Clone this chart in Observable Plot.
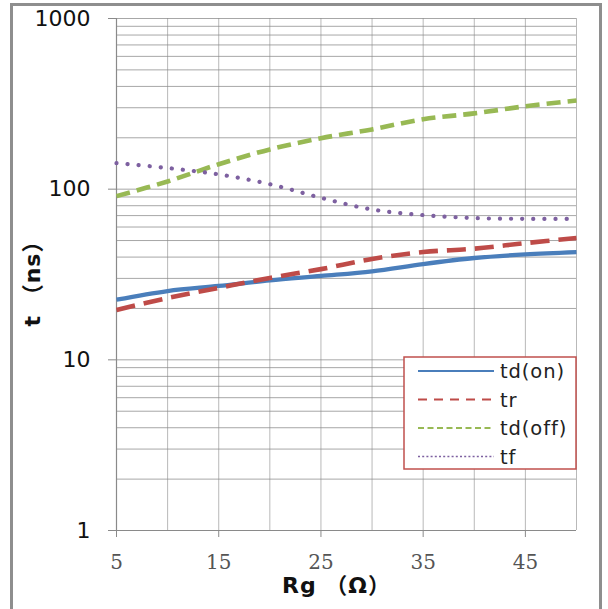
<!DOCTYPE html>
<html>
<head>
<meta charset="utf-8">
<script src="https://cdn.jsdelivr.net/npm/d3@7"></script>
<script src="https://cdn.jsdelivr.net/npm/@observablehq/plot@0.6"></script>
<style>
  html, body { margin: 0; padding: 0; background: #fff; }
  #wrap { position: relative; width: 608px; height: 609px; overflow: hidden; }
  #frame { position: absolute; left: 10px; top: 3px; width: 592px; height: 640px; border: 3px solid #8e8e8e; box-sizing: border-box; pointer-events: none; }
  #legend { position: absolute; left: 0; top: 0; }
  .yax text { font-family: "DejaVu Sans", sans-serif; font-size: 22px; fill: #111; }
  .xax text { font-family: "DejaVu Serif", serif; font-size: 20px; fill: #555; }
</style>
</head>
<body>
<div id="wrap"><div id="frame"></div></div>
<script>
// ---- data ----
const rg      = [5, 10, 15, 20, 25, 30, 35, 40, 45, 50];
const tdOn    = [22.5, 25.3, 27.1, 29.2, 31, 33, 36.4, 39.5, 41.5, 42.8];
const tr      = [19.6, 23, 26.4, 30.2, 34, 39, 42.8, 44.8, 48.3, 51.7];
const tdOff   = [91, 111, 140, 171, 199, 224, 257, 278, 306, 331];
const tf      = [142, 133, 122, 107, 89, 76, 70.5, 67.7, 67, 67];

const seriesNames  = ["td(on)", "tr", "td(off)", "tf"];
const seriesValues = [tdOn, tr, tdOff, tf];
const seriesColors = ["#4a7ebb", "#be4b48", "#98b954", "#7d60a0"];

const xTicks = [5, 15, 25, 35, 45];
const yTicks = [1, 10, 100, 1000];
const xGrid  = [5, 10, 15, 20, 25, 30, 35, 40, 45, 50];
const yGrid  = [1,2,3,4,5,6,7,8,9,10,20,30,40,50,60,70,80,90,100,200,300,400,500,600,700,800,900,1000];

const xLabel = "Rg （Ω）";
const yLabel = "t （ns）";

// ---- styles ----
const plotStyles = [
  {width: 4.3, dash: null, cap: "butt"},
  {width: 4.6, dash: "19,9", cap: "butt"},
  {width: 4.6, dash: "14,7", cap: "butt"},
  {width: 4.2, dash: "0.1,11", cap: "round"}
];
const legendStyles = [
  {width: 2, dash: null, cap: "butt"},
  {width: 2, dash: "9,7", cap: "butt"},
  {width: 1.8, dash: "6,3.5", cap: "butt"},
  {width: 1.5, dash: "2,2.2", cap: "butt"}
];

const rows = seriesNames.flatMap((name, i) =>
  rg.map((x, j) => ({series: name, x, y: seriesValues[i][j]})));

const lineMarks = seriesNames.map((name, i) =>
  Plot.line(rows.filter(d => d.series === name), {
    x: "x", y: "y", curve: "catmull-rom",
    stroke: seriesColors[i], strokeWidth: plotStyles[i].width,
    strokeDasharray: plotStyles[i].dash, strokeLinecap: plotStyles[i].cap
  }));

const chart = Plot.plot({
  width: 608, height: 609,
  marginLeft: 116, marginRight: 32, marginTop: 18, marginBottom: 79,
  style: {background: "transparent", overflow: "visible"},
  x: {domain: [5, 50]},
  y: {type: "log", domain: [1, 1000]},
  marks: [
    Plot.gridY(yGrid, {stroke: "#8a8a8a", strokeOpacity: 0.75, strokeWidth: 1}),
    Plot.gridX(xGrid, {stroke: "#8a8a8a", strokeOpacity: 0.6, strokeWidth: 1}),
    Plot.ruleX([5], {stroke: "#8a8a8a", strokeWidth: 1.2}),
    Plot.ruleY([1], {stroke: "#8a8a8a", strokeWidth: 1.2}),
    Plot.axisY({ticks: yTicks, tickFormat: d => String(d), tickSize: 8, tickPadding: 18,
      label: null, stroke: "#8a8a8a", className: "yax"}),
    Plot.axisX({ticks: xTicks, tickFormat: d => String(d), tickSize: 7, tickPadding: 17,
      label: null, stroke: "#8a8a8a", className: "xax"}),
    ...lineMarks,
    Plot.text([xLabel], {frameAnchor: "bottom", dy: 62, dx: -10, text: d => d,
      fontFamily: "DejaVu Sans, Noto Sans CJK SC", fontWeight: "bold", fontSize: 22, fill: "#111"}),
    Plot.text([yLabel], {frameAnchor: "left", dx: -84, dy: 52, rotate: -90, text: d => d,
      fontFamily: "DejaVu Sans, Noto Sans CJK SC", fontWeight: "bold", fontSize: 22, fill: "#111"})
  ]
});

const wrap = document.getElementById("wrap");
wrap.insertBefore(chart, wrap.firstChild);
d3.select(chart).selectAll("text").filter(function() { return this.textContent === xLabel; })
  .attr("letter-spacing", 1);
d3.select(chart).selectAll("text").filter(function() { return this.textContent === yLabel; })
  .attr("letter-spacing", 1);

// ---- legend overlay ----
const lx = 404, ly = 357, lw = 172, lh = 112;
const leg = d3.select(wrap).append("svg").attr("id", "legend")
  .attr("width", 608).attr("height", 609);
leg.append("rect").attr("x", lx).attr("y", ly).attr("width", lw).attr("height", lh)
  .attr("fill", "#fff").attr("stroke", "#c0504d").attr("stroke-width", 1.5);
const rowY = [371, 399.5, 428, 456.5];
seriesNames.forEach((name, i) => {
  leg.append("line").attr("x1", 418).attr("x2", 494).attr("y1", rowY[i]).attr("y2", rowY[i])
    .attr("stroke", seriesColors[i]).attr("stroke-width", legendStyles[i].width)
    .attr("stroke-dasharray", legendStyles[i].dash);
  leg.append("text").attr("x", 500).attr("y", rowY[i]).attr("dy", "0.36em")
    .attr("font-family", "DejaVu Sans, sans-serif").attr("font-size", 19.5)
    .attr("letter-spacing", 0.9).attr("fill", "#222").text(name);
});
</script>
</body>
</html>
